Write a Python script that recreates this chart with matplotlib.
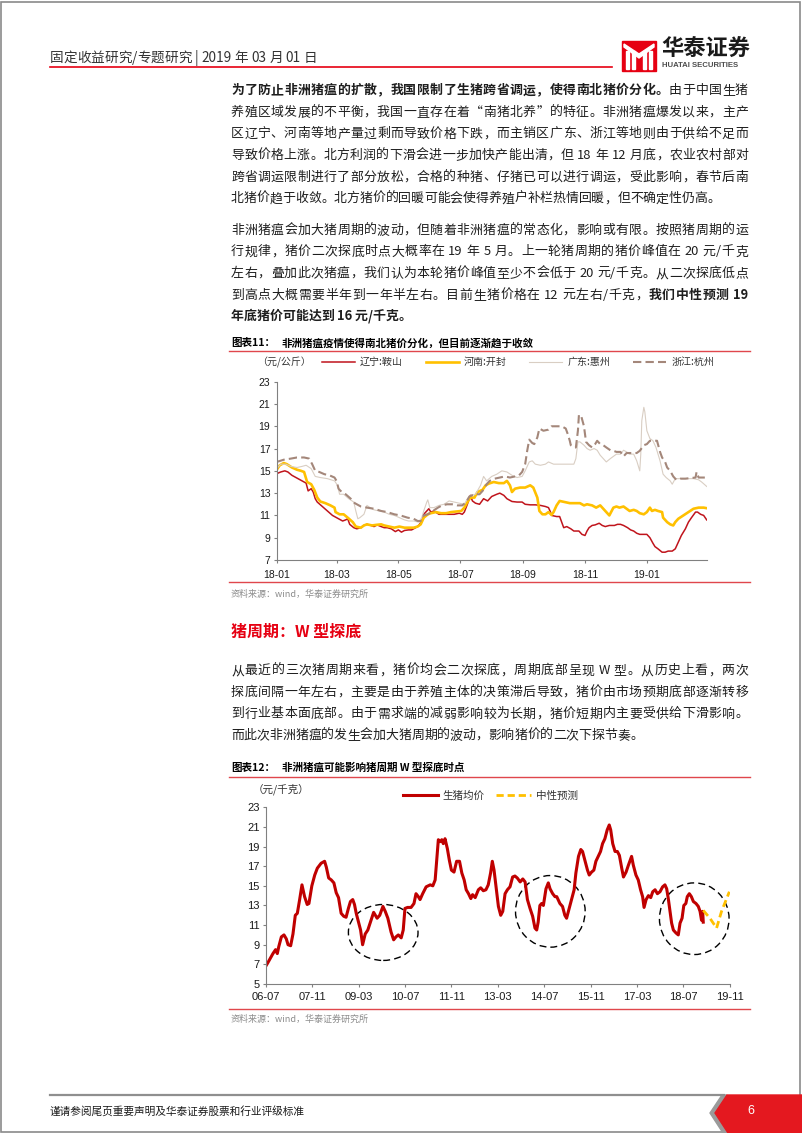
import re
import numpy as np
import pandas as pd
import matplotlib
matplotlib.use("Agg")
import matplotlib.pyplot as plt
import matplotlib.dates as mdates
from matplotlib.font_manager import FontProperties
from matplotlib.lines import Line2D
from matplotlib.patches import Ellipse, Polygon, Rectangle

CJK = ["Noto Sans CJK SC", "DejaVu Sans"]
LAT = ["Liberation Sans", "DejaVu Sans"]
plt.rcParams["font.family"] = CJK

# ---------------- data: chart 11 (days since 2018-01-01, price 元/公斤) ----------------
liaoning = [(0, 14.75), (4, 14.9), (8, 15.0), (11, 14.9), (15, 14.6), (20, 14.35), (25, 14.1),
            (29, 13.9), (31, 13.2), (34, 13.4), (36, 13.1), (38, 12.5), (40, 12.2), (45, 11.8),
            (50, 11.4), (55, 11.0), (60, 10.75), (65, 10.5), (68, 10.6), (70, 10.7), (72, 10.2),
            (76, 9.9), (79, 9.8), (83, 9.9), (86, 10.1), (89, 10.2), (93, 10.1), (96, 10.0),
            (99, 10.15), (103, 10.0), (106, 9.9), (109, 9.9), (113, 9.8), (117, 9.55), (120, 9.7),
            (123, 9.5), (126, 9.65), (130, 9.7), (133, 9.7), (137, 9.9), (140, 10.1), (143, 10.5),
            (145, 11.1), (148, 11.4), (150, 11.6), (152, 11.3), (155, 11.4), (160, 11.1),
            (165, 11.1), (170, 11.1), (175, 11.1), (180, 11.2), (183, 11.1), (185, 11.3),
            (188, 12.0), (191, 12.8), (193, 12.3), (196, 12.1), (200, 12.0), (204, 12.5),
            (208, 12.3), (212, 12.7), (217, 12.9), (220, 13.0), (224, 12.8), (227, 12.5),
            (232, 12.25), (237, 12.2), (242, 12.2), (245, 12.0), (250, 11.95), (255, 11.95),
            (260, 11.9), (265, 11.8), (268, 11.7), (270, 11.3), (271, 11.0), (276, 10.9),
            (279, 10.9), (281, 10.4), (283, 9.9), (286, 10.0), (290, 9.8), (293, 9.6), (298, 9.6),
            (301, 9.3), (304, 9.2), (306, 9.6), (308, 9.9), (311, 10.1), (314, 10.15), (318, 10.3),
            (321, 10.1), (324, 10.0), (328, 10.1), (333, 10.1), (336, 10.2), (339, 10.2),
            (342, 10.1), (346, 9.9), (349, 9.7), (352, 9.6), (355, 9.4), (358, 9.3), (362, 9.3),
            (365, 9.3), (368, 9.0), (371, 8.5), (373, 8.2), (376, 8.0), (380, 7.7), (383, 7.7),
            (386, 7.8), (390, 7.8), (393, 8.0), (396, 8.6), (399, 9.2), (403, 9.8), (406, 10.4),
            (409, 10.8), (413, 11.3), (415, 11.3), (418, 11.1), (421, 11.0), (424, 10.6)]
henan = [(0, 15.1), (3, 15.5), (7, 15.7), (10, 15.6), (15, 15.3), (20, 15.1), (24, 15.0),
         (27, 14.9), (30, 14.0), (34, 13.8), (37, 13.3), (40, 12.6), (43, 12.25), (48, 12.1),
         (53, 11.9), (57, 11.7), (58, 11.3), (62, 11.1), (66, 11.1), (70, 10.8), (75, 10.4),
         (78, 10.0), (83, 9.9), (86, 10.1), (89, 10.2), (94, 10.1), (98, 10.15), (103, 10.2),
         (106, 10.1), (111, 10.0), (116, 9.9), (121, 10.0), (126, 9.9), (131, 9.9), (135, 9.9),
         (139, 10.0), (142, 10.2), (145, 10.8), (149, 11.1), (152, 11.2), (157, 11.3),
         (162, 11.2), (167, 11.2), (172, 11.3), (177, 11.35), (182, 11.4), (185, 11.7),
         (188, 12.2), (191, 12.6), (195, 12.6), (198, 13.1), (203, 13.3), (206, 13.7),
         (209, 13.85), (214, 14.0), (219, 13.9), (224, 13.9), (227, 14.1), (230, 13.7),
         (232, 13.1), (235, 13.4), (240, 13.5), (245, 13.5), (250, 13.7), (253, 13.5),
         (257, 12.6), (259, 11.4), (262, 11.1), (265, 11.1), (268, 11.3), (271, 11.05),
         (273, 11.3), (276, 11.9), (279, 12.3), (284, 12.2), (289, 12.1), (294, 12.1),
         (299, 12.1), (303, 11.9), (306, 12.0), (311, 11.9), (315, 11.7), (319, 11.9),
         (322, 11.6), (325, 11.3), (328, 11.0), (332, 11.7), (335, 11.8), (338, 11.7),
         (342, 11.8), (345, 11.6), (348, 11.4), (352, 11.5), (355, 11.4), (358, 11.2),
         (362, 11.1), (365, 11.3), (368, 11.7), (370, 11.4), (373, 11.5), (376, 11.4),
         (380, 11.3), (381, 10.8), (385, 10.4), (388, 10.2), (391, 10.1), (393, 10.4),
         (396, 10.7), (401, 11.0), (406, 11.3), (411, 11.6), (416, 11.7), (421, 11.7), (424, 11.65)]
guangdong = [(0, 15.2), (4, 15.6), (9, 15.6), (14, 15.4), (20, 15.3), (25, 15.4), (29, 15.5),
             (34, 15.2), (38, 14.5), (43, 14.4), (50, 14.3), (57, 14.1), (60, 13.7), (62, 12.9),
             (66, 12.9), (71, 12.5), (76, 12.2), (78, 11.4), (80, 10.7), (82, 10.8), (86, 11.1),
             (89, 11.9), (92, 11.7), (96, 11.5), (101, 11.4), (106, 11.3), (111, 11.1),
             (116, 11.0), (121, 10.8), (126, 10.6), (130, 10.5), (135, 10.5), (140, 10.4),
             (143, 10.8), (145, 11.4), (148, 12.2), (149, 12.4), (151, 11.7), (155, 11.7),
             (160, 11.9), (165, 12.0), (170, 12.3), (175, 12.2), (180, 12.1), (185, 12.0),
             (188, 12.5), (191, 12.8), (196, 12.9), (201, 13.7), (204, 14.5), (207, 14.1),
             (212, 14.5), (217, 14.7), (222, 15.0), (227, 14.9), (232, 14.6), (237, 14.4),
             (242, 14.5), (245, 15.0), (249, 15.8), (252, 15.9), (255, 15.6), (260, 15.5),
             (265, 15.6), (268, 15.8), (273, 15.6), (279, 15.6), (286, 15.6), (293, 15.6),
             (295, 16.1), (297, 17.6), (299, 17.6), (303, 17.3), (306, 17.0), (309, 16.85),
             (313, 17.0), (316, 16.85), (319, 16.4), (322, 16.1), (325, 15.8), (329, 16.1),
             (332, 16.3), (335, 16.5), (339, 16.5), (342, 16.85), (345, 16.7), (348, 16.5),
             (352, 16.5), (355, 15.9), (358, 15.0), (359, 16.5), (360, 19.5), (362, 20.7),
             (363, 20.3), (365, 18.6), (368, 17.9), (371, 17.7), (374, 17.1), (378, 15.9),
             (381, 14.7), (384, 14.4), (388, 14.1), (390, 13.8), (393, 14.3), (398, 14.3),
             (404, 14.3), (411, 14.3), (416, 14.2), (419, 14.0), (424, 13.6)]
zhejiang = [(0, 15.8), (7, 16.0), (14, 16.1), (20, 16.2), (27, 16.2), (32, 16.1), (35, 15.6),
            (38, 15.0), (42, 14.9), (47, 14.7), (52, 14.6), (57, 14.4), (59, 14.1), (61, 13.4),
            (63, 13.2), (68, 12.9), (73, 12.5), (77, 12.1), (83, 11.8), (89, 11.7), (96, 11.6),
            (103, 11.4), (109, 11.3), (116, 11.1), (122, 11.0), (129, 10.8), (135, 10.7),
            (139, 10.5), (142, 10.5), (145, 11.0), (149, 11.1), (154, 11.4), (159, 11.7),
            (163, 11.9), (168, 12.0), (173, 12.0), (178, 11.9), (183, 11.9), (187, 12.2),
            (190, 12.7), (195, 12.9), (200, 12.9), (203, 13.2), (207, 13.8), (210, 14.1),
            (215, 14.3), (220, 14.4), (225, 14.5), (230, 14.4), (235, 14.5), (239, 14.6),
            (242, 14.9), (245, 15.6), (247, 16.8), (249, 17.8), (252, 17.5), (254, 17.4),
            (257, 18.0), (259, 18.8), (263, 18.6), (268, 18.7), (271, 19.0), (276, 19.0),
            (281, 19.0), (285, 18.8), (287, 18.3), (289, 17.7), (290, 17.3), (293, 17.1),
            (295, 17.1), (297, 18.6), (298, 20.0), (300, 20.0), (303, 19.0), (305, 17.6),
            (308, 17.3), (311, 17.1), (314, 17.4), (316, 17.7), (319, 17.4), (322, 17.3),
            (325, 17.1), (329, 16.85), (332, 16.8), (335, 16.7), (339, 16.7), (342, 16.3),
            (345, 16.6), (350, 16.6), (355, 16.6), (358, 16.8), (362, 17.3), (365, 17.4),
            (368, 17.7), (371, 17.7), (375, 17.7), (378, 16.7), (380, 16.2), (383, 15.8),
            (385, 15.3), (388, 15.0), (391, 14.5), (394, 14.2), (398, 14.3), (403, 14.3),
            (408, 14.35), (413, 14.4), (414, 14.9), (416, 14.4), (419, 14.4), (424, 14.4)]
region_names = ["辽宁:鞍山", "河南:开封", "广东:惠州", "浙江:杭州"]

# ---------------- data: chart 12 (months since 2006-07, price 元/千克) ----------------
hog_price = [(0, 6.8), (0.8, 7.2), (2.5, 8.1), (3.4, 8.5), (4.0, 8.1), (4.5, 8.8), (5.4, 9.8),
             (6.3, 10.0), (7.1, 9.6), (7.7, 9.0), (8.6, 8.9), (9.4, 10.1), (10.2, 12.0),
             (10.9, 12.2), (11.7, 13.6), (12.5, 15.1), (13.4, 13.9), (14.3, 13.1), (14.9, 13.2),
             (15.9, 15.0), (16.9, 16.1), (17.8, 16.8), (18.6, 17.1), (19.1, 17.3), (20.3, 17.5),
             (20.9, 16.9), (21.7, 15.8), (22.6, 15.6), (23.5, 15.3), (24.3, 14.3), (25.1, 13.8),
             (26.0, 12.2), (26.9, 11.9), (27.7, 11.8), (28.5, 12.7), (29.2, 13.4), (30.0, 13.6),
             (30.6, 13.1), (31.2, 12.2), (32.0, 11.3), (32.7, 10.5), (33.4, 9.0), (34.3, 10.1),
             (35.2, 10.5), (36.1, 11.3), (37.2, 12.3), (37.8, 12.0), (38.4, 11.7), (39.3, 12.0),
             (40.4, 12.9), (41.2, 12.4), (42.1, 11.7), (43.2, 10.3), (44.1, 9.5), (44.9, 9.8),
             (45.7, 10.0), (46.7, 9.7), (47.4, 10.5), (48.0, 12.7), (48.9, 12.8), (50.1, 12.8),
             (51.1, 13.2), (51.8, 14.2), (52.6, 13.9), (53.2, 13.6), (54.1, 14.2), (55.3, 14.9),
             (56.7, 15.1), (57.6, 15.0), (58.4, 15.6), (58.9, 17.5), (59.5, 19.7), (60.1, 19.5),
             (60.7, 19.7), (61.2, 19.3), (61.8, 19.8), (62.6, 18.8), (63.3, 17.6), (64.0, 16.6),
             (64.9, 16.4), (65.8, 17.5), (66.8, 17.5), (67.6, 16.3), (68.4, 15.6), (69.1, 14.6),
             (69.9, 14.2), (70.7, 13.7), (71.3, 14.1), (72.2, 13.8), (73.3, 14.6), (74.1, 14.8),
             (75.0, 14.5), (75.9, 14.6), (76.7, 15.1), (77.5, 16.3), (78.1, 17.5), (78.7, 16.6),
             (79.4, 14.9), (80.2, 12.9), (81.0, 12.0), (81.7, 12.4), (82.5, 14.2), (83.3, 14.6),
             (84.2, 14.9), (85.1, 15.9), (85.9, 16.0), (86.7, 15.8), (87.7, 15.4), (88.6, 15.7),
             (89.4, 15.4), (90.2, 13.6), (91.1, 12.7), (92.0, 11.9), (92.8, 10.7), (93.4, 10.5),
             (93.9, 11.3), (94.5, 13.0), (95.1, 13.2), (95.7, 13.0), (96.6, 14.7), (97.4, 15.3),
             (98.0, 14.7), (98.9, 14.2), (99.7, 13.9), (100.3, 13.9), (101.4, 13.2), (102.3, 12.9),
             (103.1, 12.0), (103.7, 11.7), (104.6, 12.7), (105.4, 13.6), (106.3, 14.6),
             (106.9, 16.3), (107.8, 18.0), (108.6, 18.7), (109.2, 18.5), (110.0, 17.6),
             (110.9, 16.6), (111.5, 16.1), (112.3, 16.4), (113.1, 16.6), (113.8, 17.5),
             (114.6, 18.0), (115.4, 18.5), (116.1, 19.3), (116.9, 19.8), (117.7, 20.7),
             (118.4, 21.2), (118.9, 20.7), (119.6, 19.3), (120.4, 18.5), (121.2, 18.5),
             (121.9, 18.1), (122.7, 16.8), (123.3, 15.9), (124.2, 16.4), (125.0, 17.1),
             (125.5, 17.5), (126.1, 18.0), (126.7, 17.1), (127.6, 16.1), (128.4, 15.6),
             (129.2, 14.6), (129.9, 13.9), (130.4, 12.8), (131.1, 13.6), (131.9, 14.0),
             (132.7, 13.8), (133.4, 14.4), (134.2, 14.6), (135.0, 14.2), (135.9, 14.4),
             (136.8, 14.9), (137.6, 15.1), (138.2, 14.7), (138.8, 13.6), (139.3, 12.5),
             (139.9, 11.2), (140.5, 10.5), (141.4, 10.2), (142.2, 10.0), (142.8, 11.2),
             (143.5, 11.7), (144.1, 13.0), (144.8, 13.2), (145.3, 13.9), (146.0, 14.2),
             (146.7, 13.9), (147.4, 13.4), (148.3, 13.2), (149.1, 12.9), (149.7, 12.4),
             (150.2, 11.5), (150.6, 12.4), (150.8, 11.3)]
forecast = [(150.8, 12.5), (153.1, 11.7), (155.4, 10.7), (157.1, 12.4), (159.8, 14.4)]
# dashed circles marking the W-shaped bottoms: (month, price, width in months, height)
w_bottoms = [(40.5, 10.25, 24.0, 5.7), (98.1, 12.4, 24.0, 7.3), (147.7, 11.65, 24.0, 7.3)]

# ---------------- text ----------------
para1 = [
    [("为了防止非洲猪瘟的扩散，我国限制了生猪跨省调运，使得南北猪价分化。", True), ("由于中国生猪", False)],
    [("养殖区域发展的不平衡，我国一直存在着“南猪北养”的特征。非洲猪瘟爆发以来，主产", False)],
    [("区辽宁、河南等地产量过剩而导致价格下跌，而主销区广东、浙江等地则由于供给不足而", False)],
    [("导致价格上涨。北方利润的下滑会进一步加快产能出清，但 18 年 12 月底，农业农村部对", False)],
    [("跨省调运限制进行了部分放松，合格的种猪、仔猪已可以进行调运，受此影响，春节后南", False)],
    [("北猪价趋于收敛。北方猪价的回暖可能会使得养殖户补栏热情回暖，但不确定性仍高。", False)],
]
para2 = [
    [("非洲猪瘟会加大猪周期的波动，但随着非洲猪瘟的常态化，影响或有限。按照猪周期的运", False)],
    [("行规律，猪价二次探底时点大概率在 19 年 5 月。上一轮猪周期的猪价峰值在 20 元/千克", False)],
    [("左右，叠加此次猪瘟，我们认为本轮猪价峰值至少不会低于 20 元/千克。从二次探底低点", False)],
    [("到高点大概需要半年到一年半左右。目前生猪价格在 12 元左右/千克，", False), ("我们中性预测 19", True)],
    [("年底猪价可能达到 16 元/千克。", True)],
]
para3 = [
    [("从最近的三次猪周期来看，猪价均会二次探底，周期底部呈现 W 型。从历史上看，两次", False)],
    [("探底间隔一年左右，主要是由于养殖主体的决策滞后导致，猪价由市场预期底部逐渐转移", False)],
    [("到行业基本面底部。由于需求端的减弱影响较为长期，猪价短期内主要受供给下滑影响。", False)],
    [("而此次非洲猪瘟的发生会加大猪周期的波动，影响猪价的二次下探节奏。", False)],
]

W, H = 802, 1133
fig = plt.figure(figsize=(W / 100, H / 100), dpi=100)
renderer = fig.canvas.get_renderer()


def fx(x):
    return x / W


def fy(y):
    return 1 - y / H


def advance(tok, fp):
    a = renderer.get_text_width_height_descent("中" + tok + "中", fp, ismath=False)[0]
    b = renderer.get_text_width_height_descent("中中", fp, ismath=False)[0]
    return a - b


def text_line(y, segs, size=9.3, x0=231, x1=748, justify=True, color="#1e1e1e"):
    toks = []
    for s, bold in segs:
        fp = FontProperties(family=CJK, size=size, weight="bold" if bold else "normal")
        for t in re.findall(r"[A-Za-z0-9/.]+| |.", s):
            toks.append((t, fp, advance(t, fp)))
    total = sum(a for _, _, a in toks)
    gap = (x1 - x0 - total) / (len(toks) - 1) if justify else 0
    x = x0
    base = y + 0.37 * size * 100 / 72
    for t, fp, a in toks:
        if t != " ":
            fig.text(fx(x), fy(base), t, fontproperties=fp, color=color,
                     ha="left", va="baseline")
        x += a + gap


def paragraph(lines, y0, step=21.6):
    for i, segs in enumerate(lines):
        text_line(y0 + i * step, segs, justify=(i < len(lines) - 1))


def hline(x0, x1, y, color, lw):
    fig.add_artist(Line2D([fx(x0), fx(x1)], [fy(y), fy(y)], color=color, lw=lw,
                          transform=fig.transFigure))


# page frame
fig.add_artist(Rectangle((0.001, 0.001), 0.997, 0.997, fill=False, ec="#8a8a8a", lw=1.2,
                         transform=fig.transFigure))

# header
text_line(57, [("固定收益研究/专题研究 | 2019 年 03 月 01 日", False)], size=9.8, x0=50,
          justify=False, color="#333333")
hline(50, 612, 67, "#E60012", 1.2)
fig.add_artist(Rectangle((fx(622), fy(71)), 34 / W, 30 / H, color="#E60012",
                         transform=fig.transFigure))
for xs in ([626, 629], [632, 635], [643, 646], [649, 652]):
    fig.add_artist(Rectangle((fx(xs[0]), fy(69)), (xs[1] - xs[0]) / W, 18 / H,
                             color="white", transform=fig.transFigure))
fig.add_artist(Polygon([(fx(624), fy(47)), (fx(639), fy(58)), (fx(654), fy(47)),
                        (fx(654), fy(44)), (fx(639), fy(54)), (fx(624), fy(44))],
                       closed=True, color="white", transform=fig.transFigure))
fig.text(fx(661), fy(49), "华泰证券", fontsize=16, fontweight="bold", color="#1a1a1a",
         ha="left", va="center")
fig.text(fx(662), fy(65.5), "HUATAI SECURITIES", fontsize=5.6, fontweight="bold",
         family=LAT, color="#4d4d4d", ha="left", va="center")

# body paragraphs
paragraph(para1, 89.5)
paragraph(para2, 229)

# ---------- chart 11 ----------
fig.text(fx(231), fy(343), "图表11：", fontsize=7.6, fontweight="bold", ha="left", va="center")
fig.text(fx(282), fy(343), "非洲猪瘟疫情使得南北猪价分化，但目前逐渐趋于收敛", fontsize=7.6,
         fontweight="bold", ha="left", va="center")
hline(229, 750, 351, "#E0474C", 1.0)
fig.text(fx(257), fy(362), "（元/公斤）", fontsize=7.2, color="#333333", ha="left", va="center")

ax1 = fig.add_axes([fx(276.7), fy(560), 430 / W, 178.3 / H])
t0 = pd.Timestamp("2018-01-01")
styles1 = [dict(color="#C0141C", lw=1.1),
           dict(color="#FFC000", lw=1.9),
           dict(color="#D9CEC3", lw=0.8),
           dict(color="#A4877A", lw=1.5, dashes=(4, 2))]
lines1 = []
for series, st in zip([liaoning, henan, guangdong, zhejiang], styles1):
    d, v = zip(*series)
    dates = t0 + pd.to_timedelta(np.array(d), unit="D")
    ln, = ax1.plot(dates, v, solid_joinstyle="round", **st)
    lines1.append(ln)
ticks1 = [t0 + pd.DateOffset(months=2 * k) for k in range(7)]
ax1.set_xticks(ticks1)
ax1.set_xticklabels([t.strftime("%y-%m") for t in ticks1])
ax1.set_xlim(t0, pd.Timestamp("2019-03-01"))
ax1.set_ylim(7, 23)
ax1.set_yticks(range(7, 24, 2))
ax1.legend(lines1, region_names, ncol=4, loc="center left",
           bbox_to_anchor=(fx(321.7), fy(362)), bbox_transform=fig.transFigure,
           frameon=False, borderpad=0, borderaxespad=0, handlelength=3.3,
           handletextpad=0.5, columnspacing=2.3, prop=FontProperties(family=CJK, size=7.2),
           labelcolor="#333333")

# ---------- text between charts ----------
hline(229, 750, 582, "#E0474C", 1.0)
fig.text(fx(231), fy(594), "资料来源：wind，华泰证券研究所", fontsize=6.5, color="#8c8c8c",
         ha="left", va="center")
fig.text(fx(231), fy(632), "猪周期：W 型探底", fontsize=11.5, fontweight="bold",
         color="#E60012", ha="left", va="center")
paragraph(para3, 669.5)

# ---------- chart 12 ----------
fig.text(fx(231), fy(768), "图表12：", fontsize=7.6, fontweight="bold", ha="left", va="center")
fig.text(fx(282), fy(768), "非洲猪瘟可能影响猪周期 W 型探底时点", fontsize=7.6,
         fontweight="bold", ha="left", va="center")
hline(229, 750, 777, "#E0474C", 1.0)
fig.text(fx(253), fy(789), "（元/千克）", fontsize=7.6, color="#333333", ha="left", va="center")

ax2 = fig.add_axes([fx(265.7), fy(984), 464.3 / W, 176.7 / H])
m0 = pd.Timestamp("2006-07-01")
mm, pv = zip(*hog_price)
ln_hog, = ax2.plot(m0 + pd.to_timedelta(np.array(mm) * 30.44, unit="D"), pv,
                   color="#C00000", lw=2.2, solid_joinstyle="round")
fm, fv = zip(*forecast)
ln_fc, = ax2.plot(m0 + pd.to_timedelta(np.array(fm) * 30.44, unit="D"), fv,
                  color="#FFC000", lw=2.0, dashes=(2.6, 1.4))
for cm, cv, wm, hv in w_bottoms:
    cx = mdates.date2num(m0 + pd.Timedelta(days=cm * 30.44))
    ax2.add_patch(Ellipse((cx, cv), wm * 30.44, hv, fill=False, ec="black", lw=1.0,
                          ls=(0, (5, 3))))
ticks2 = [m0 + pd.DateOffset(months=16 * k) for k in range(11)]
ax2.set_xticks(ticks2)
ax2.set_xticklabels([t.strftime("%y-%m") for t in ticks2])
ax2.set_xlim(m0, pd.Timestamp("2019-11-01"))
ax2.set_ylim(5, 23)
ax2.set_yticks(range(5, 24, 2))
ax2.legend([ln_hog, ln_fc], ["生猪均价", "中性预测"], ncol=2, loc="center left",
           bbox_to_anchor=(fx(403), fy(796)), bbox_transform=fig.transFigure,
           frameon=False, borderpad=0, borderaxespad=0, handlelength=3.3,
           handletextpad=0.45, columnspacing=1.1, prop=FontProperties(family=CJK, size=7.6),
           labelcolor="#333333")

for ax, size, ypad in ((ax1, 7.5, 4.5), (ax2, 8, 3)):
    for s in ("top", "right"):
        ax.spines[s].set_visible(False)
    for s in ("left", "bottom"):
        ax.spines[s].set_color("#808080")
        ax.spines[s].set_linewidth(0.8)
    ax.tick_params(direction="out", length=2.5, width=0.8, color="#808080",
                   labelsize=size, labelcolor="#1a1a1a", labelfontfamily="Liberation Sans")
    ax.tick_params(axis="x", pad=ypad)
    ax.tick_params(axis="y", pad=2)
    ax.set_facecolor("none")

hline(229, 750, 1009, "#E0474C", 1.0)
fig.text(fx(231), fy(1019), "资料来源：wind，华泰证券研究所", fontsize=6.5, color="#8c8c8c",
         ha="left", va="center")

# ---------- footer ----------
hline(50, 724, 1095, "#8f8f8f", 1.6)
fig.text(fx(50), fy(1111), "谨请参阅尾页重要声明及华泰证券股票和行业评级标准", fontsize=7.7,
         color="#1a1a1a", ha="left", va="center")
fig.add_artist(Polygon([(fx(722), fy(1095)), (fx(727), fy(1095)), (fx(715), fy(1113)),
                        (fx(728), fy(1133)), (fx(723), fy(1133)), (fx(710), fy(1113))],
                       closed=True, color="#9a9a9a", transform=fig.transFigure))
fig.add_artist(Polygon([(fx(727), fy(1095)), (fx(802), fy(1095)), (fx(802), fy(1133)),
                        (fx(728), fy(1133)), (fx(715), fy(1113))],
                       closed=True, color="#E4181F", transform=fig.transFigure))
fig.text(fx(751), fy(1111), "6", fontsize=9, color="white", family=LAT, ha="center",
         va="center")

fig.savefig("out.png", dpi=100)
